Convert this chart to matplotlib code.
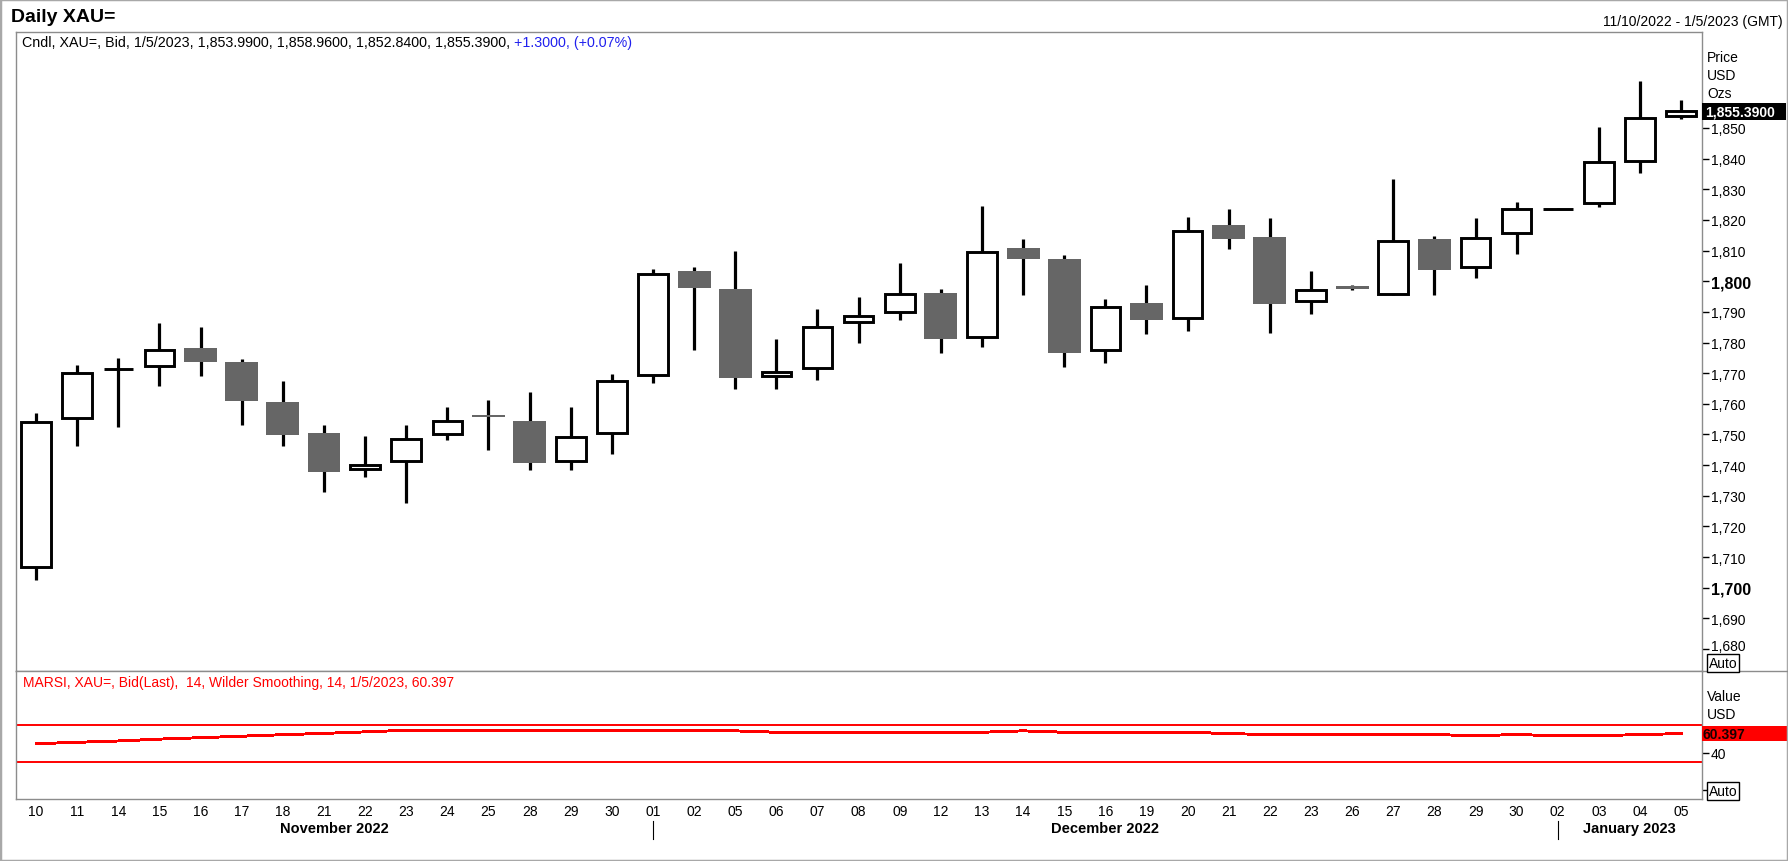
import matplotlib
matplotlib.use('Agg')
import matplotlib.pyplot as plt
from matplotlib.patches import Rectangle
from matplotlib.lines import Line2D
import matplotlib.transforms as mtransforms

plt.rcParams['font.family'] = ['Liberation Sans', 'DejaVu Sans']

# ---------------- data ----------------
dates = ['10', '11', '14', '15', '16', '17', '18', '21', '22', '23', '24', '25', '28', '29', '30',
         '01', '02', '05', '06', '07', '08', '09', '12', '13', '14', '15', '16', '19', '20', '21',
         '22', '23', '26', '27', '28', '29', '30',
         '02', '03', '04', '05']
months = ['November 2022', 'December 2022', 'January 2023']
month_first = [0, 15, 37]

opens = [1706.7, 1755.5, 1771.2, 1772.5, 1778.3, 1773.8, 1760.7, 1750.6, 1738.8, 1741.2,
         1750.0, 1756.5, 1754.5, 1741.5, 1750.6, 1769.3, 1803.2, 1797.6, 1769.0, 1771.8,
         1786.8, 1790.1, 1796.0, 1781.9, 1810.7, 1807.4, 1777.5, 1793.0, 1788.1, 1818.2,
         1814.3, 1793.4, 1798.4, 1795.9, 1813.9, 1804.7, 1815.7, 1823.5, 1825.6, 1839.3,
         1853.99]
highs = [1757.0, 1772.8, 1775.0, 1786.5, 1785.2, 1774.7, 1767.6, 1753.2, 1749.6, 1753.2,
         1758.8, 1761.4, 1763.7, 1759.0, 1769.8, 1804.0, 1804.5, 1810.0, 1781.0, 1790.8,
         1795.0, 1806.1, 1797.3, 1824.4, 1813.9, 1808.7, 1794.3, 1798.6, 1821.1, 1823.7,
         1820.5, 1803.2, 1798.6, 1833.2, 1814.6, 1820.5, 1826.0, 1823.8, 1850.2, 1865.2,
         1858.96]
lows = [1702.4, 1746.1, 1752.3, 1765.7, 1769.0, 1753.2, 1746.4, 1731.1, 1736.0, 1727.5,
        1748.1, 1744.8, 1738.3, 1738.3, 1743.5, 1766.7, 1777.5, 1764.7, 1764.7, 1767.7,
        1780.0, 1787.3, 1776.5, 1778.4, 1795.4, 1771.9, 1773.2, 1782.7, 1783.7, 1810.4,
        1783.0, 1789.2, 1797.0, 1795.5, 1795.6, 1801.2, 1809.0, 1823.4, 1824.2, 1835.3,
        1852.84]
closes = [1754.0, 1770.0, 1771.5, 1777.5, 1773.5, 1760.8, 1749.7, 1737.6, 1740.2, 1748.4,
          1754.3, 1755.6, 1740.6, 1749.1, 1767.6, 1802.3, 1797.7, 1768.3, 1770.5, 1785.2,
          1788.6, 1795.7, 1781.1, 1809.5, 1807.2, 1776.5, 1791.5, 1787.3, 1816.5, 1813.9,
          1792.5, 1797.1, 1797.4, 1813.0, 1803.8, 1814.0, 1823.5, 1823.7, 1838.8, 1853.2,
          1855.39]
rsi = [49.6, 51.1, 52.5, 54.5, 56.0, 57.6, 59.2, 60.6, 62.2, 63.9,
       63.9, 63.9, 63.9, 63.9, 63.9, 63.9, 63.9, 63.3, 61.8, 61.8,
       61.8, 61.8, 61.8, 61.8, 63.3, 61.8, 61.8, 61.8, 61.8, 60.4,
       59.3, 59.3, 59.3, 59.3, 59.3, 58.2, 59.3, 58.2, 58.2, 59.3,
       60.397]
price_ticks = list(range(1680, 1851, 10))
rsi_levels = [70, 30]

# ---------------- layout ----------------
W, H = 1788, 862
fig = plt.figure(figsize=(W / 100, H / 100), dpi=100)
L, R = 15.5, 1701.7
T1, B1 = 33, 671.5
T2, B2 = 671.5, 799.7
ax = fig.add_axes([L / W, 1 - B1 / H, (R - L) / W, (B1 - T1) / H])
ax2 = fig.add_axes([L / W, 1 - B2 / H, (R - L) / W, (B2 - T2) / H])

frame = '#8c8c8c'
xlo, xhi = -0.5, len(dates) - 0.5
for a in (ax, ax2):
    for s in a.spines.values():
        s.set_color(frame)
        s.set_linewidth(1.0)
    a.set_xlim(xlo, xhi)

# ---------------- candles ----------------
lw = 2.1
for i, (o, h, l, c) in enumerate(zip(opens, highs, lows, closes)):
    ax.vlines(i, l, h, color='black', lw=2.3, zorder=2)
    if c >= o:
        ax.add_patch(Rectangle((i - 0.36, o), 0.72, c - o, facecolor='white',
                               edgecolor='black', lw=lw, joinstyle='miter', zorder=3))
    else:
        ax.add_patch(Rectangle((i - 0.40, c), 0.80, o - c, facecolor='#666666',
                               edgecolor='none', zorder=3))

ax.set_ylim(1673.0, 1881.3)
ax.set_xticks([])
ax.yaxis.tick_right()
ax.set_yticks(price_ticks)
ax.set_yticklabels([f'{v:,}' for v in price_ticks])
ax.tick_params(axis='y', direction='out', length=5, width=1, color='black',
               labelsize=10, pad=1.5)
labs = ax.get_yticklabels()
for lab, v in zip(labs, price_ticks):
    if v % 100 == 0:
        lab.set_fontweight('bold')
        lab.set_fontsize(11.5)
# lowest label sits slightly higher (above the Auto box)
labs[0].set_transform(labs[0].get_transform() +
                      mtransforms.ScaledTranslation(0, 5 / 100, fig.dpi_scale_trans))

# last price label
bt = mtransforms.blended_transform_factory(ax.transAxes, ax.transData)
ax.add_patch(Rectangle((1.0, closes[-1] - 2.7), 84 / (R - L), 5.4, transform=bt,
                       facecolor='black', edgecolor='none', clip_on=False, zorder=5))
ax.text(1.0 + 3 / (R - L), closes[-1], f'{closes[-1]:,.4f}', transform=bt, ha='left',
        va='center', color='white', fontweight='bold', fontsize=10, zorder=6, clip_on=False)

# ---------------- RSI ----------------
ax2.plot(range(len(rsi)), rsi, color='red', lw=1.4, antialiased=False, zorder=3)
for lv in rsi_levels:
    ax2.axhline(lv, color='red', lw=1.4, zorder=2)
ax2.set_ylim(-9, 127.6)
ax2.yaxis.tick_right()
ax2.set_yticks([0, 40])
ax2.set_yticklabels(['', '40'])
ax2.tick_params(axis='y', direction='out', length=5, width=1, color='black',
                labelsize=10, pad=1.5)
ax2.set_xticks(range(len(dates)))
ax2.set_xticklabels(dates)
ax2.tick_params(axis='x', length=0, labelsize=10, pad=4)

bt2 = mtransforms.blended_transform_factory(ax2.transAxes, ax2.transData)
ax2.add_patch(Rectangle((1.0, rsi[-1] - 8.0), 86 / (R - L), 16.0, transform=bt2,
                        facecolor='#ff0000', edgecolor='none', clip_on=False, zorder=5))
ax2.text(1.0 + 1 / (R - L), rsi[-1], f'{rsi[-1]:.3f}', transform=bt2, ha='left',
         va='center', color='#1a0000', fontweight='bold', fontsize=10, zorder=6, clip_on=False)

# month labels (centred between separators) and separators
mt = mtransforms.blended_transform_factory(ax2.transData, fig.transFigure)
bounds = [xlo] + month_first[1:] + [xhi]
for k, name in enumerate(months):
    fig.text((bounds[k] + bounds[k + 1]) / 2, 1 - 829 / H, name, transform=mt,
             ha='center', va='center', fontweight='bold', fontsize=10.5)
for f0 in month_first[1:]:
    fig.add_artist(Line2D([f0, f0], [1 - 822 / H, 1 - 840 / H], transform=mt,
                          color='black', lw=0.8))

# ---------------- texts ----------------
def px(x, y):
    return x / W, 1 - y / H

fig.text(*px(11, 17), 'Daily XAU=', ha='left', va='center', fontweight='bold', fontsize=14)
fig.text(*px(1783, 22), '11/10/2022 - 1/5/2023 (GMT)', ha='right', va='center', fontsize=10)

t1 = fig.text(*px(22, 43), 'Cndl, XAU=, Bid, 1/5/2023, 1,853.9900, 1,858.9600, 1,852.8400, 1,855.3900,',
              ha='left', va='center', fontsize=10.3)
fig.add_artist(matplotlib.text.Annotation(' +1.3000, (+0.07%)', xy=(1, 0), xycoords=t1,
                                          va='bottom', ha='left', fontsize=10.3, color='#2020ee'))

fig.text(*px(23, 683), 'MARSI, XAU=, Bid(Last),  14, Wilder Smoothing, 14, 1/5/2023, 60.397',
         ha='left', va='center', fontsize=10, color='red')

for txt, y in [('Price', 58), ('USD', 76), ('Ozs', 94), ('Value', 697), ('USD', 715)]:
    fig.text(*px(1707, y), txt, ha='left', va='center', fontsize=10)

for y in (664, 792):
    fig.text(*px(1709, y), 'Auto', ha='left', va='center', fontsize=10,
             bbox=dict(boxstyle='square,pad=0.12', fc='white', ec='black', lw=1))

# separator to the right edge, outer frame
fig.add_artist(Line2D([R / W, 1], [1 - 671.5 / H, 1 - 671.5 / H], transform=fig.transFigure,
                      color=frame, lw=1.0))
fig.add_artist(Rectangle((0, 0), 1, 1, transform=fig.transFigure, fill=False,
                         ec='#a8a8a8', lw=2.5))

fig.savefig('out.png', dpi=100, facecolor='white')
